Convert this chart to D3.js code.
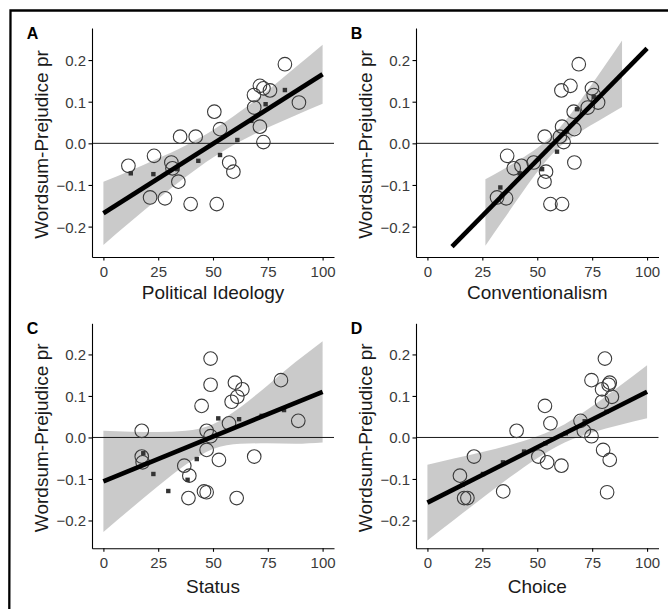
<!DOCTYPE html>
<html>
<head>
<meta charset="utf-8">
<script src="https://cdn.jsdelivr.net/npm/d3@7"></script>
<style>
  body { margin: 0; background: #fff; }
  text { font-family: "Liberation Sans", Arial, sans-serif; }
</style>
</head>
<body>
<svg id="chart" width="668" height="609"></svg>
<script>
const width = 668;
const height = 609;

const tags = ["A", "B", "C", "D"];
const xTitles = ["Political Ideology", "Conventionalism", "Status", "Choice"];
const yTitle = "Wordsum-Prejudice pr";
const xTicks = [0, 25, 50, 75, 100];
const yTicks = [-0.2, -0.1, 0, 0.1, 0.2];

// one value per group, shared by all four panels
const prValues = [0.190, 0.138, 0.132, 0.127, 0.116, 0.098, 0.086, 0.076, 0.040, 0.034, 0.016, 0.016,
  0.003, -0.030, -0.046, -0.046, -0.054, -0.060, -0.068, -0.092, -0.130, -0.132, -0.146, -0.146];
const ideologyX = [82.8, 71.4, 73, 76, 68.7, 89.2, 68.8, 50.6, 71.4, 53.2, 35.0, 42.1,
  73, 23.1, 31, 57.4, 11.4, 31.5, 59.3, 34.2, 21.3, 28.1, 39.8, 51.7];
const conventionalismX = [68.9, 65.1, 74.9, 61, 75.7, 77.7, 73, 66.6, 61.3, 66.9, 53.4, 60.3,
  62, 36.3, 66.9, 48.4, 42.8, 39.3, 54, 53.3, 31.7, 35.8, 56, 61.3];
const statusX = [48.9, 81, 60, 48.9, 63.4, 61.1, 58.5, 44.8, 88.9, 57.3, 17.5, 47.1,
  48.9, 47.1, 68.8, 17.5, 52.7, 17.9, 36.9, 39.2, 45.9, 47.1, 38.8, 60.8];
const choiceX = [80.8, 74.7, 83, 82.5, 79.5, 84, 79.5, 53.5, 69.7, 56, 40.6, 71.2,
  74.7, 80, 21.2, 50.5, 83, 54.5, 61, 14.8, 34.5, 81.8, 16.7, 18.2];

// binned means (small squares)
const ideologyBinX = [12.5, 22.8, 33.7, 43.3, 53.2, 61.1, 67.5, 74, 82.8];
const ideologyBinY = [-0.072, -0.074, -0.062, -0.042, -0.028, 0.008, 0.054, 0.094, 0.128];
const conventionalismBinX = [33.2, 42, 52.2, 59, 63.5, 68.1, 75.7];
const conventionalismBinY = [-0.106, -0.072, -0.062, -0.020, 0.028, 0.082, 0.112];
const statusBinX = [18.2, 22.8, 29.6, 38.4, 42.6, 52.4, 61.9, 72.2, 82.4];
const statusBinY = [-0.038, -0.088, -0.129, -0.102, -0.052, 0.046, 0.044, 0.052, 0.066];
const choiceBinX = [15.9, 25.3, 34.4, 44, 53.7, 63, 71.6, 81.5];
const choiceBinY = [-0.114, -0.088, -0.060, -0.034, -0.014, 0.010, 0.039, 0.062];

// fitted lines
const ideologyFitX = [0, 100];
const ideologyFitY = [-0.168, 0.166];
const conventionalismFitX = [11.2, 100];
const conventionalismFitY = [-0.248, 0.228];
const statusFitX = [0, 100];
const statusFitY = [-0.106, 0.110];
const choiceFitX = [0, 100];
const choiceFitY = [-0.157, 0.110];

// confidence bands
const ideologyBandX = [0, 12.5, 25, 37.5, 50, 62.5, 75, 87.5, 100];
const ideologyBandLo = [-0.244, -0.188, -0.133, -0.081, -0.034, 0.005, 0.038, 0.067, 0.095];
const ideologyBandHi = [-0.092, -0.065, -0.036, -0.005, 0.032, 0.077, 0.127, 0.182, 0.237];
const conventionalismBandX = [26.4, 34, 42, 50, 58, 66, 74, 82, 88.6];
const conventionalismBandLo = [-0.246, -0.188, -0.127, -0.069, -0.019, 0.015, 0.042, 0.067, 0.087];
const conventionalismBandHi = [-0.086, -0.064, -0.039, -0.011, 0.025, 0.076, 0.135, 0.196, 0.247];
const statusBandX = [0, 12.5, 25, 37.5, 50, 62.5, 75, 87.5, 100];
const statusBandLo = [-0.228, -0.172, -0.117, -0.066, -0.028, -0.015, -0.014, -0.015, -0.012];
const statusBandHi = [0.016, 0.014, 0.013, 0.016, 0.032, 0.073, 0.126, 0.181, 0.232];
const choiceBandX = [0, 12.5, 25, 37.5, 50, 62.5, 75, 87.5, 100];
const choiceBandLo = [-0.248, -0.197, -0.146, -0.096, -0.050, -0.012, 0.012, 0.030, 0.046];
const choiceBandHi = [-0.066, -0.050, -0.035, -0.018, 0.003, 0.032, 0.075, 0.124, 0.174];

const series = [
  [ideologyX, ideologyBinX, ideologyBinY, ideologyFitX, ideologyFitY, ideologyBandX, ideologyBandLo, ideologyBandHi],
  [conventionalismX, conventionalismBinX, conventionalismBinY, conventionalismFitX, conventionalismFitY, conventionalismBandX, conventionalismBandLo, conventionalismBandHi],
  [statusX, statusBinX, statusBinY, statusFitX, statusFitY, statusBandX, statusBandLo, statusBandHi],
  [choiceX, choiceBinX, choiceBinY, choiceFitX, choiceFitY, choiceBandX, choiceBandLo, choiceBandHi]
];

const boxes = [
  { left: 92, right: 334, top: 28, bottom: 257, yDomain: [-0.273, 0.277], titleGap: 42 },
  { left: 416, right: 658.5, top: 28, bottom: 257, yDomain: [-0.273, 0.277], titleGap: 42 },
  { left: 92, right: 334, top: 323.3, bottom: 548.3, yDomain: [-0.267, 0.275], titleGap: 45 },
  { left: 416, right: 658.5, top: 323.3, bottom: 548.3, yDomain: [-0.267, 0.275], titleGap: 45 }
];

const svg = d3.select("#chart");

svg.append("path")
  .attr("d", `M9.3,${height} L10.5,10.5 L${width},10.5`)
  .attr("fill", "none")
  .attr("stroke", "#000")
  .attr("stroke-width", 2.3);

const drawPanel = (i) => {
  const b = boxes[i];
  const [xs, binX, binY, fitX, fitY, bandX, bandLo, bandHi] = series[i];

  const x = d3.scaleLinear().domain([-5.2, 105.2]).range([b.left, b.right]);
  const y = d3.scaleLinear().domain(b.yDomain).range([b.bottom, b.top]);

  const g = svg.append("g");

  const area = d3.area()
    .x(d => x(d[0]))
    .y0(d => y(d[1]))
    .y1(d => y(d[2]))
    .curve(d3.curveMonotoneX);

  g.append("path")
    .datum(bandX.map((v, k) => [v, bandLo[k], bandHi[k]]))
    .attr("d", area)
    .attr("fill", "#b3b3b3")
    .attr("fill-opacity", 0.7);

  g.append("line")
    .attr("x1", b.left).attr("x2", b.right)
    .attr("y1", y(0)).attr("y2", y(0))
    .attr("stroke", "#1a1a1a")
    .attr("stroke-width", 1);

  g.selectAll("circle")
    .data(xs.map((v, k) => [v, prValues[k]]))
    .enter().append("circle")
    .attr("cx", d => x(d[0]))
    .attr("cy", d => y(d[1]))
    .attr("r", 6.8)
    .attr("fill", "none")
    .attr("stroke", "#3a3a3a")
    .attr("stroke-width", 1.1);

  g.selectAll("rect.bin")
    .data(binX.map((v, k) => [v, binY[k]]))
    .enter().append("rect")
    .attr("class", "bin")
    .attr("x", d => x(d[0]) - 2.2)
    .attr("y", d => y(d[1]) - 2.2)
    .attr("width", 4.4)
    .attr("height", 4.4)
    .attr("fill", "#333");

  g.append("path")
    .datum(fitX.map((v, k) => [v, fitY[k]]))
    .attr("d", d3.line().x(d => x(d[0])).y(d => y(d[1])))
    .attr("stroke", "#000")
    .attr("stroke-width", 4.6)
    .attr("fill", "none");

  const xAxis = g.append("g")
    .attr("transform", `translate(0,${b.bottom})`)
    .call(d3.axisBottom(x).tickValues(xTicks).tickSize(3.5).tickSizeOuter(0));
  xAxis.selectAll("text")
    .attr("y", 20).attr("dy", 0)
    .style("font-size", "15px")
    .attr("fill", "#3a3a3a");

  const yAxis = g.append("g")
    .attr("transform", `translate(${b.left},0)`)
    .call(d3.axisLeft(y).tickValues(yTicks).tickSize(3.5).tickSizeOuter(0)
      .tickFormat(d3.format(".1f")));
  yAxis.selectAll("text")
    .attr("x", -6).attr("dy", "0.36em")
    .style("font-size", "15px")
    .attr("fill", "#3a3a3a");

  [xAxis, yAxis].forEach(a => {
    a.select(".domain").attr("stroke", "#000").attr("stroke-width", 1.1);
    a.selectAll(".tick line").attr("stroke", "#000").attr("stroke-width", 1.1);
  });

  g.append("text")
    .attr("x", (b.left + b.right) / 2)
    .attr("y", b.bottom + b.titleGap)
    .attr("text-anchor", "middle")
    .style("font-size", "19px")
    .attr("fill", "#1a1a1a")
    .text(xTitles[i]);

  g.append("text")
    .attr("transform", `translate(${b.left - 44.5},${(b.top + b.bottom) / 2 + 2}) rotate(-90)`)
    .attr("text-anchor", "middle")
    .style("font-size", "19px")
    .attr("fill", "#1a1a1a")
    .text(yTitle);

  g.append("text")
    .attr("x", b.left - 65.3)
    .attr("y", b.top + 10.5)
    .style("font-size", "16px")
    .style("font-weight", "bold")
    .text(tags[i]);
};

tags.forEach((t, i) => drawPanel(i));
</script>
</body>
</html>
